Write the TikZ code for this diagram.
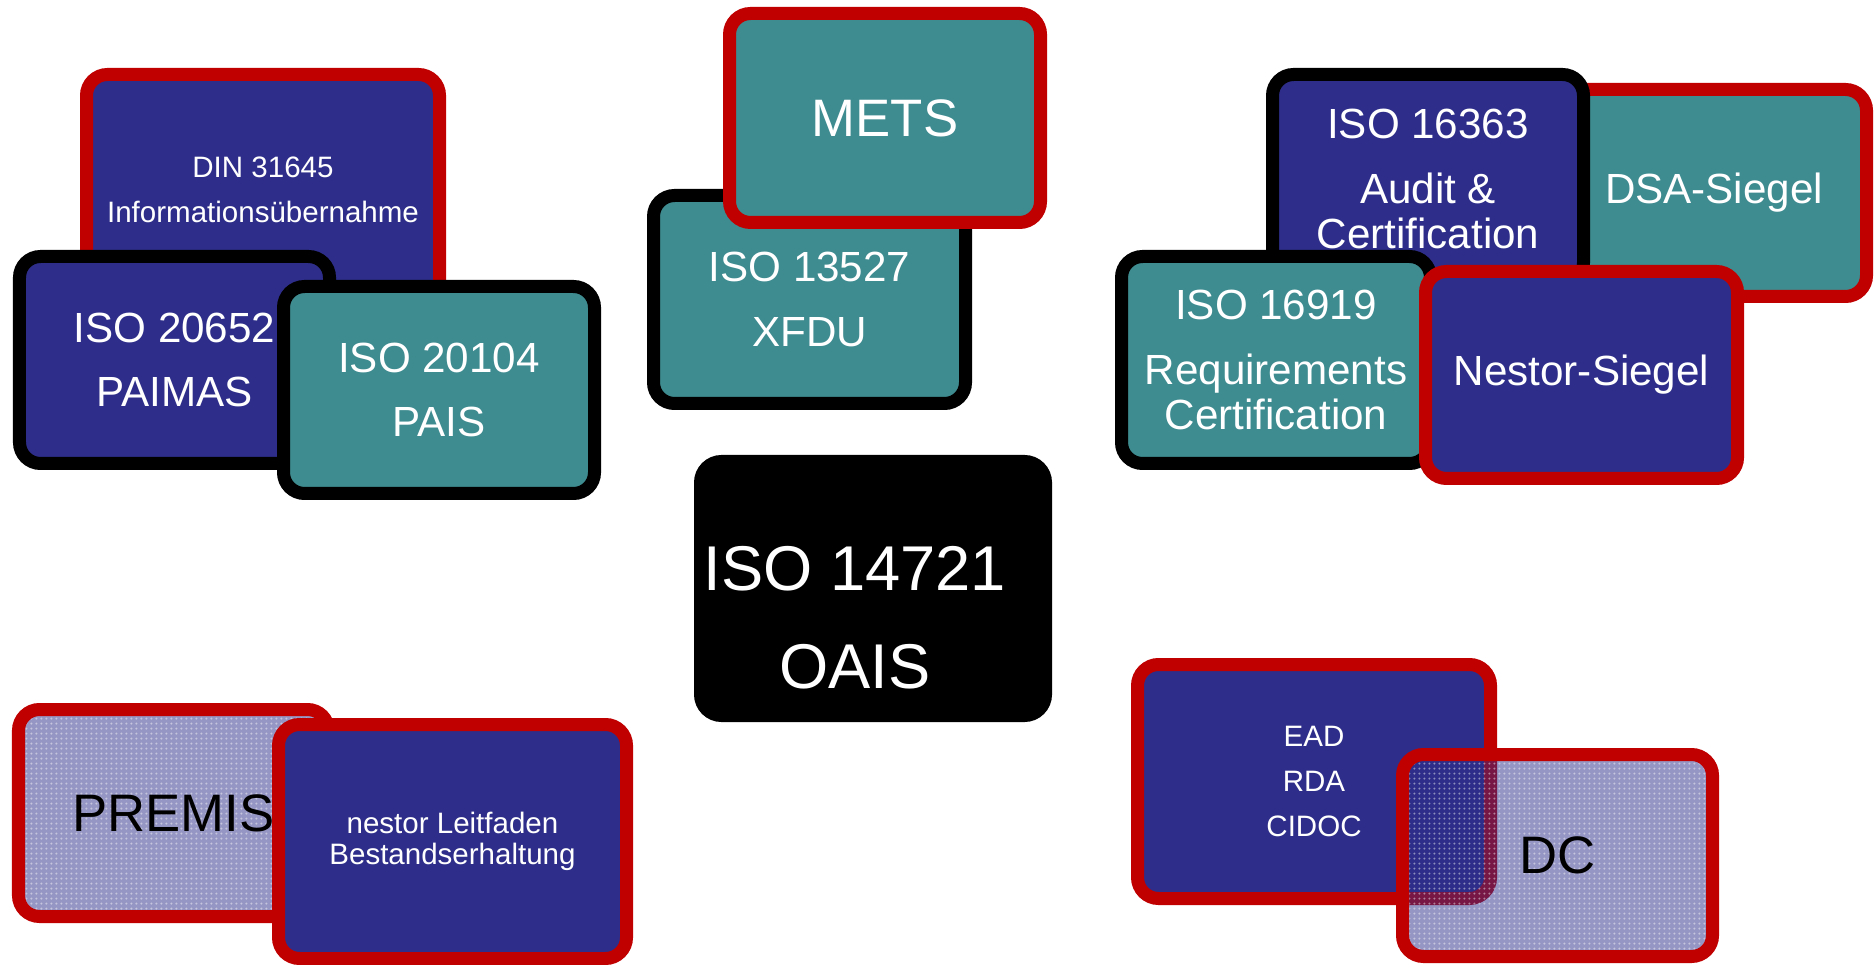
\documentclass[tikz,border=0pt]{standalone}
\usepackage{fontspec}
\setmainfont{Liberation Sans}
\usetikzlibrary{patterns}
\definecolor{boxnavy}{RGB}{46,46,138}
\definecolor{boxteal}{RGB}{62,139,144}
\definecolor{boxred}{RGB}{192,0,0}
\pgfdeclarepatternformonly{finedots}{\pgfpointorigin}{\pgfqpoint{1.4pt}{1.4pt}}{\pgfqpoint{1.4pt}{1.4pt}}{%
  \pgfpathcircle{\pgfqpoint{0.7pt}{0.7pt}}{0.32pt}\pgfusepath{fill}}

\begin{document}
\begin{tikzpicture}[
    box/.style={rounded corners=0.21cm, line width=0.13cm, inner sep=0pt, outer sep=0pt, align=center, text=white},
    redbox/.style={box, draw=boxred},
    blackbox/.style={box, draw=black},
    dotbox/.style={redbox, text=black,
        preaction={fill=boxnavy, fill opacity=0.5},
        preaction={pattern=finedots, pattern color=white, fill opacity=0.45}},
    small/.style={font=\fontsize{8.4}{8.9}\selectfont},
    mid/.style={font=\fontsize{12}{12.8}\selectfont},
    big/.style={font=\fontsize{15}{17}\selectfont},
    huge/.style={font=\fontsize{18}{20}\selectfont}]
    \useasboundingbox (0,0) rectangle (18.74,-9.65);

    % Uebernahme
    \node (din) [redbox, fill=boxnavy, small, minimum width=3.53cm, minimum height=2.31cm] at (2.63,-1.90) {DIN 31645\\[4pt]Informationsübernahme};
    \node (paimas) [blackbox, fill=boxnavy, mid, minimum width=3.10cm, minimum height=2.07cm] at (1.745,-3.60) {ISO 20652\\[5.5pt]PAIMAS};
    \node (pais) [blackbox, fill=boxteal, mid, minimum width=3.11cm, minimum height=2.07cm] at (4.39,-3.90) {ISO 20104\\[5.5pt]PAIS};

    % Container
    \node (xfdu) [blackbox, fill=boxteal, mid, minimum width=3.12cm, minimum height=2.08cm] at (8.095,-2.995) {ISO 13527\\[5.5pt]XFDU};
    \node (mets) [redbox, fill=boxteal, big, minimum width=3.11cm, minimum height=2.09cm] at (8.85,-1.18) {METS};

    % Referenzmodell
    \node (oais) [blackbox, fill=black, minimum width=3.45cm, minimum height=2.54cm] at (8.73,-5.885) {};
    \node (oaislbl) [huge, text=white, align=center] at (8.55,-6.175) {ISO 14721\\[8pt]OAIS};

    % Zertifizierung
    \node (dsa) [redbox, fill=boxteal, mid, minimum width=3.05cm, minimum height=2.07cm] at (17.14,-1.93) {DSA-Siegel};
    \node (audit) [blackbox, fill=boxnavy, mid, minimum width=3.11cm, minimum height=2.09cm] at (14.28,-1.79) {ISO 16363\\[5.5pt]Audit \&\\Certification};
    \node (req) [blackbox, fill=boxteal, mid, minimum width=3.09cm, minimum height=2.07cm] at (12.76,-3.60) {ISO 16919\\[5.5pt]Requirements\\Certification};
    \node (nestor) [redbox, fill=boxnavy, mid, minimum width=3.12cm, minimum height=2.07cm] at (15.815,-3.75) {Nestor-Siegel};

    % Erhaltung
    \node (premis) [dotbox, big, minimum width=3.10cm, minimum height=2.07cm] at (1.735,-8.13) {PREMIS};
    \node (leitfaden) [redbox, fill=boxnavy, small, minimum width=3.48cm, minimum height=2.34cm] at (4.525,-8.415) {nestor Leitfaden\\Bestandserhaltung};

    % Metadaten
    \node (ead) [redbox, fill=boxnavy, small, minimum width=3.53cm, minimum height=2.34cm] at (13.14,-7.815) {EAD\\[3.8pt]RDA\\[3.8pt]CIDOC};
    \node (dc) [dotbox, big, minimum width=3.10cm, minimum height=2.02cm] at (15.575,-8.555) {DC};
\end{tikzpicture}
\end{document}
